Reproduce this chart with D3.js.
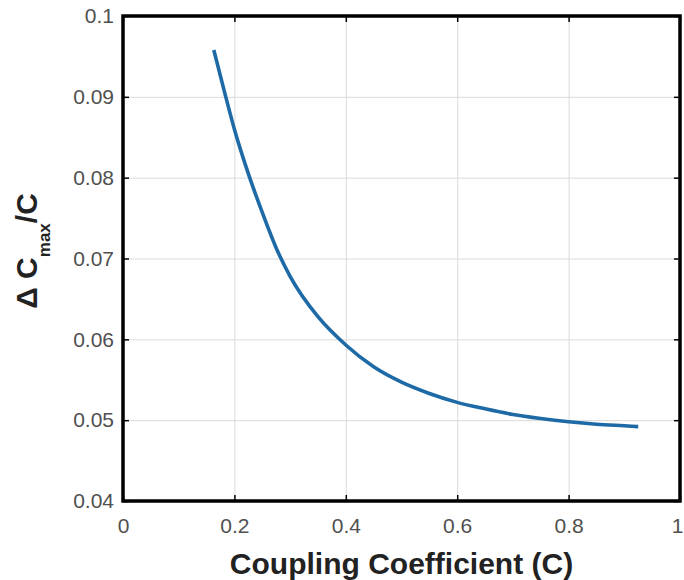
<!DOCTYPE html>
<html>
<head>
<meta charset="utf-8">
<script src="https://cdn.jsdelivr.net/npm/d3@7"></script>
<style>
  html, body { margin: 0; padding: 0; background: #fff; }
  svg { display: block; }
</style>
</head>
<body>
<svg id="chart" width="684" height="580"></svg>
<script>
// ---- data ----
const couplingC = [0.163, 0.18, 0.2, 0.225, 0.25, 0.275, 0.3, 0.35, 0.4, 0.45, 0.5, 0.55, 0.6, 0.65, 0.7, 0.75, 0.8, 0.85, 0.9, 0.925];
const deltaCmax = [0.0958, 0.0912, 0.0860, 0.0805, 0.0757, 0.0713, 0.0678, 0.0628, 0.0593, 0.0566, 0.0547, 0.0533, 0.0522, 0.0514, 0.0507, 0.0502, 0.0498, 0.0495, 0.0493, 0.0492];
const xTicks = [0, 0.2, 0.4, 0.6, 0.8, 1];
const xTickLabels = ["0", "0.2", "0.4", "0.6", "0.8", "1"];
const yTicks = [0.04, 0.05, 0.06, 0.07, 0.08, 0.09, 0.1];
const yTickLabels = ["0.04", "0.05", "0.06", "0.07", "0.08", "0.09", "0.1"];
const xDomain = [0, 1];
const yDomain = [0.04, 0.1];

// ---- layout ----
const W = 684, H = 580;
const margin = { left: 123, right: 4, top: 16, bottom: 79 };
const iw = W - margin.left - margin.right;
const ih = H - margin.top - margin.bottom;

const svg = d3.select("#chart");
const g = svg.append("g").attr("transform", `translate(${margin.left},${margin.top})`);

const x = d3.scaleLinear().domain(xDomain).range([0, iw]);
const y = d3.scaleLinear().domain(yDomain).range([ih, 0]);

const tickFont = "'Liberation Sans', Arial, Helvetica, sans-serif";

// grid
g.append("g").attr("class", "xgrid")
  .attr("transform", `translate(0,${ih})`)
  .call(d3.axisBottom(x).tickValues(xTicks).tickSize(-ih).tickFormat(""))
  .call(s => s.select(".domain").remove())
  .call(s => s.selectAll("line").attr("stroke", "#dadada").attr("stroke-width", 1));
g.append("g").attr("class", "ygrid")
  .call(d3.axisLeft(y).tickValues(yTicks).tickSize(-iw).tickFormat(""))
  .call(s => s.select(".domain").remove())
  .call(s => s.selectAll("line").attr("stroke", "#dadada").attr("stroke-width", 1));

// curve
const data = couplingC.map((c, i) => ({ c, v: deltaCmax[i] }));
g.append("path")
  .datum(data)
  .attr("fill", "none")
  .attr("stroke", "#1d6aa6")
  .attr("stroke-width", 3.6)
  .attr("stroke-linecap", "butt")
  .attr("d", d3.line().x(d => x(d.c)).y(d => y(d.v)).curve(d3.curveMonotoneX));

// axes with inward ticks
const styleAxis = (s) => {
  s.select(".domain").remove();
  s.selectAll(".tick line").attr("stroke", "#000").attr("stroke-width", 1.5);
  s.selectAll("text").attr("fill", "#505050").style("font-family", tickFont).style("font-size", "21px");
};
g.append("g")
  .attr("transform", `translate(0,${ih})`)
  .call(d3.axisBottom(x).tickValues(xTicks).tickSize(-6).tickPadding(17)
    .tickFormat((d, i) => xTickLabels[i]))
  .call(styleAxis)
  .call(s => s.selectAll("text").attr("dy", "0.71em")
    .attr("dx", (d, i) => i === xTicks.length - 1 ? -3 : 0));
g.append("g")
  .call(d3.axisLeft(y).tickValues(yTicks).tickSize(-6).tickPadding(9)
    .tickFormat((d, i) => yTickLabels[i]))
  .call(styleAxis);
g.append("g")
  .call(d3.axisTop(x).tickValues(xTicks).tickSize(-6).tickFormat(""))
  .call(styleAxis);
g.append("g")
  .attr("transform", `translate(${iw},0)`)
  .call(d3.axisRight(y).tickValues(yTicks).tickSize(-6).tickFormat(""))
  .call(styleAxis);

// box
g.append("rect")
  .attr("x", 0).attr("y", 0).attr("width", iw).attr("height", ih)
  .attr("fill", "none").attr("stroke", "#000").attr("stroke-width", 3.5);

// axis labels
svg.append("text")
  .attr("x", margin.left + iw / 2)
  .attr("y", 574)
  .attr("text-anchor", "middle")
  .style("font-family", tickFont)
  .style("font-weight", "bold")
  .style("font-size", "30px")
  .attr("fill", "#222")
  .text("Coupling Coefficient (C)");

const yl = svg.append("text")
  .attr("transform", "translate(37,251) rotate(-90)")
  .attr("text-anchor", "middle")
  .style("font-family", tickFont)
  .style("font-weight", "bold")
  .style("font-size", "30px")
  .attr("fill", "#222");
yl.append("tspan").text("\u0394 C");
yl.append("tspan").attr("dy", 13).style("font-size", "17px").text("max");
yl.append("tspan").attr("dy", -13).text("/C");
</script>
</body>
</html>
